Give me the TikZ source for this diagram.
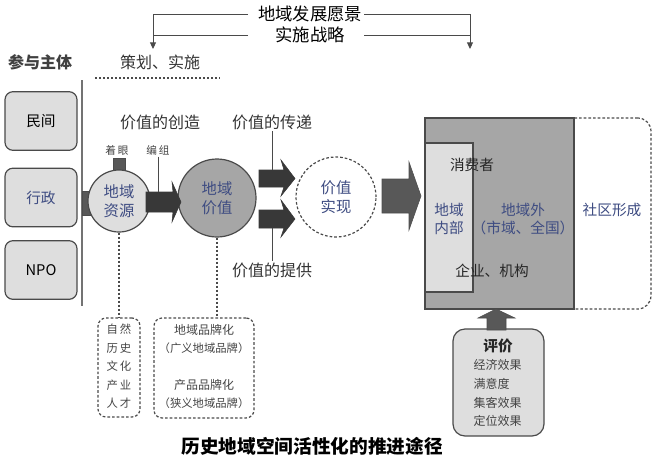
\documentclass[tikz,border=0pt]{standalone}
\usepackage{fontspec}
\setmainfont{Liberation Sans}
\newfontfamily\cjk{Noto Sans CJK SC}
\usetikzlibrary{arrows.meta}
\definecolor{txtblue}{HTML}{3E4C82}
\definecolor{lightfill}{HTML}{DEDEDE}
\definecolor{midfill}{HTML}{A6A6A6}
\definecolor{darkarrow}{HTML}{383838}
\definecolor{grayarrow}{HTML}{585858}
\definecolor{edge}{HTML}{4A4A4A}
\definecolor{smalltxt}{HTML}{444444}
\tikzset{
  sidebox/.style={draw=edge, fill=lightfill, rounded corners=6pt, line width=0.9pt,
    minimum width=54pt, minimum height=44pt, font=\cjk\fontsize{11}{13}\selectfont},
  lbl/.style={font=\cjk\fontsize{12}{14}\selectfont, text=black!80, inner sep=1pt},
  small/.style={font=\cjk\fontsize{8}{10}\selectfont, text=smalltxt, inner sep=1pt},
  thinline/.style={draw=edge, line width=0.7pt},
  dotline/.style={draw=edge, line width=0.9pt, dash pattern=on 1.5pt off 1.5pt},
  dashbox/.style={draw=edge, line width=0.9pt, dash pattern=on 2pt off 1.5pt, rounded corners=6pt},
  circtxt/.style={font=\cjk\fontsize{11.5}{14}\selectfont, text=txtblue, align=center},
  blk/.style={fill=darkarrow, draw=darkarrow, line width=0.4pt},
  gblk/.style={fill=grayarrow, draw=black!70, line width=0.4pt},
}
\begin{document}
\begin{tikzpicture}[x=0.75pt, y=-0.75pt]
\useasboundingbox (0,0) rectangle (660,465);

% top title and bracket arrows
\node[font=\cjk\fontsize{13}{15}\selectfont, inner sep=1pt] (t1) at (310,14) {地域发展愿景};
\node[font=\cjk\fontsize{13}{15}\selectfont, inner sep=1pt] (t2) at (310,35) {实施战略};
\coordinate (l1) at (248,14);
\coordinate (l2) at (248,35);
\coordinate (r1) at (364,14);
\coordinate (r2) at (364,35);
\coordinate (la) at (153,49);
\coordinate (ra) at (470,49);
\draw[thinline, -{Triangle[length=5pt,width=4.5pt]}] (l1) -| (la);
\draw[thinline] (l2) -- (l2 -| la);
\draw[thinline, -{Triangle[length=5pt,width=4.5pt]}] (r1) -| (ra);
\draw[thinline] (r2) -- (r2 -| ra);

% headers
\node[lbl, text=black!75, font=\cjk\bfseries\fontsize{12}{14}\selectfont] (hdr1) at (40,62) {参与主体};
\node[lbl] (hdr2) at (160,62) {策划、实施};
\coordinate (d1) at (95,78);
\coordinate (d2) at (220,78);
\draw[dotline, line width=0.8pt] (d1) -- (d2);

% vertical separator
\coordinate (v1) at (82,80);
\coordinate (v2) at (82,306);
\draw[draw=black!55, line width=0.9pt] (v1) -- (v2);

% left boxes
\node[sidebox] (minjian) at (41,121) {民间};
\node[sidebox, text=txtblue] (xingzheng) at (41,197.5) {行政};
\node[sidebox] (npo) at (41,270) {NPO};

% connector 行政 -> circle
\fill[grayarrow, draw=black!70, line width=0.4pt] (82,191) rectangle (92,215);

% 着眼 marker
\fill[grayarrow, draw=black!70, line width=0.5pt] (113,158) rectangle (125,174);

% circle 1
\node[circle, draw=edge, fill=lightfill, line width=0.9pt, minimum size=46.5pt, circtxt] (res) at (119,201) {地域\\资源};

% circle 2
\node[circle, draw=edge, fill=midfill, line width=0.9pt, minimum size=58.5pt, circtxt] (val) at (217,198) {地域\\价值};

% arrow 1
\fill[blk] (146,192) -- (173,192) -- (172,182) -- (181,202) -- (172,222) -- (173,212) -- (146,212) -- cycle;

% labels of circles
\node[small] (zhuoyan) at (117,150) {着\,眼};
\node[small] (bianzu) at (158,150) {编\,组};
\coordinate (bz) at (158,192);
\draw[thinline] (bianzu.south) -- (bz);

\node[lbl] (create) at (160,122) {价值的创造};
\node[lbl] (deliver) at (272,122) {价值的传递};
\node[lbl] (provide) at (272,270) {价值的提供};

% dashed circle 价值实现
\node[circle, draw=edge, fill=white, line width=0.9pt, dash pattern=on 2pt off 1.5pt, minimum size=60pt, circtxt] (real) at (336,197) {价值\\实现};

% two arrows
\fill[blk] (259,170) -- (284,170) -- (281,160) -- (295,178.5) -- (281,196) -- (284,187) -- (259,187) -- cycle;
\fill[blk] (259,210) -- (284,210) -- (281,200) -- (295,219) -- (281,237) -- (284,228) -- (259,228) -- cycle;
\coordinate (ua) at (272,170);
\coordinate (da) at (272,228);
\draw[thinline] (deliver.south) -- (ua);
\draw[thinline] (da) -- (provide.north);

% big arrow
\fill[gblk] (382,179) -- (409,179) -- (409,162) -- (421,196) -- (409,230) -- (409,213) -- (382,213) -- cycle;

% right block
\node[dashbox, rounded corners=10pt, minimum width=83.25pt, minimum height=143.25pt, fill=white] (community) at (595.5,213.5) {};
\node[draw=edge, fill=midfill, line width=0.9pt, minimum width=111.75pt, minimum height=143.25pt, inner sep=0pt] (outer) at (499.5,213.5) {};
\node[draw=edge, fill=lightfill, line width=0.9pt, minimum width=36pt, minimum height=111.75pt, inner sep=0pt] (inner) at (449,217.5) {};

\node[font=\cjk\fontsize{11}{13}\selectfont, text=black!85] (consumer) at (472,165) {消费者};
\node[font=\cjk\fontsize{11}{14}\selectfont, text=txtblue, align=center] (inside) at (449,219) {地域\\内部};
\node[font=\cjk\fontsize{11}{14}\selectfont, text=txtblue, align=center] (outside) at (523,219) {地域外\\（市域、全国）};
\node[font=\cjk\fontsize{11}{13}\selectfont, text=black!85] (firm) at (492,271) {企业、机构};
\node[font=\cjk\fontsize{11}{13}\selectfont, text=txtblue] (comm) at (612,210) {社区形成};

% evaluation box
\node[draw=edge, fill=lightfill, line width=0.9pt, rounded corners=9pt, minimum width=68.25pt, minimum height=80.25pt] (eval) at (498.5,382.5) {};
\node[font=\cjk\bfseries\fontsize{11}{13}\selectfont, text=black!85] (evalt) at (498,346) {评价};
\node[small, font=\cjk\fontsize{9}{11}\selectfont, anchor=west] (e1) at (472,365) {经济效果};
\node[small, font=\cjk\fontsize{9}{11}\selectfont, anchor=west] (e2) at (472,384) {满意度};
\node[small, font=\cjk\fontsize{9}{11}\selectfont, anchor=west] (e3) at (472,403) {集客效果};
\node[small, font=\cjk\fontsize{9}{11}\selectfont, anchor=west] (e4) at (472,421) {定位效果};

% up arrow
\fill[gblk] (487,330) -- (487,318) -- (478,318) -- (496,309) -- (515,318) -- (506,318) -- (506,330) -- cycle;

% dashed boxes at bottom
\node[dashbox, minimum width=31.5pt, minimum height=74.25pt] (resbox) at (119,367.5) {};
\foreach \t [count=\i] in {自\,然, 历\,史, 文\,化, 产\,业, 人\,才} {
  \node[small, font=\cjk\fontsize{8.5}{10}\selectfont] (r\i) at (119,{311+18.5*\i}) {\t};
}
\node[dashbox, minimum width=75pt, minimum height=75pt] (brandbox) at (204,368) {};
\node[small, font=\cjk\fontsize{9}{11}\selectfont] (b1) at (204,330) {地域品牌化};
\node[small, font=\cjk\fontsize{8.5}{10}\selectfont] (b2) at (204,348) {（广义地域品牌）};
\node[small, font=\cjk\fontsize{9}{11}\selectfont] (b3) at (204,385) {产品品牌化};
\node[small, font=\cjk\fontsize{8.5}{10}\selectfont] (b4) at (204,403) {（狭义地域品牌）};

\draw[dotline] (res.south) -- (resbox.north);
\draw[dotline] (val.south) -- (val.south |- brandbox.north);

% bottom title
\node[font=\cjk\bfseries\fontsize{14}{16}\selectfont] (title) at (312,446) {历史地域空间活性化的推进途径};
\end{tikzpicture}
\end{document}
